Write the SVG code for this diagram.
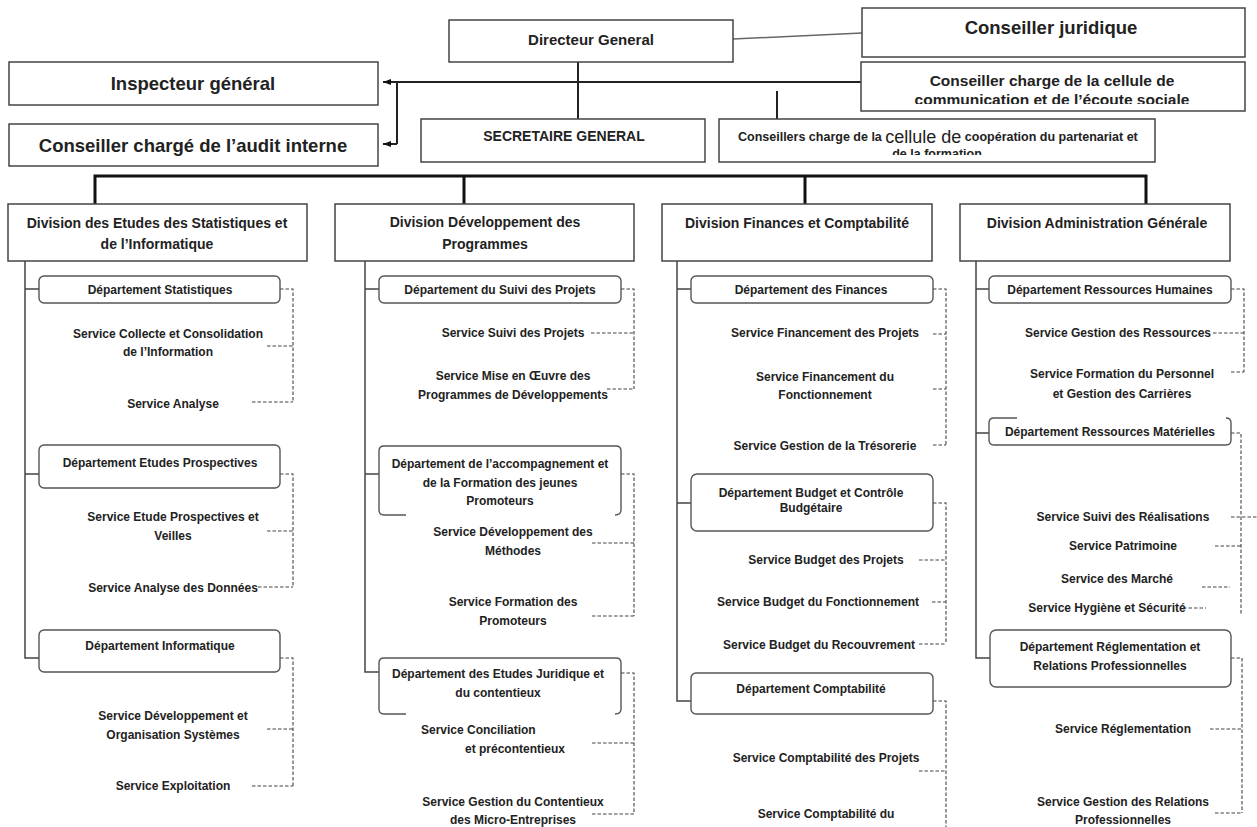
<svg xmlns="http://www.w3.org/2000/svg" width="1257" height="827" viewBox="0 0 1257 827">
  <style>
    text { font-family: "Liberation Sans", Arial, sans-serif; fill: #222; dominant-baseline: central; text-anchor: middle; }
    .top { font-size: 18.5px; font-weight: bold; }
    .mid { font-size: 15.5px; font-weight: bold; }
    .dg { font-size: 15px; font-weight: bold; }
    .sg { font-size: 14px; font-weight: bold; }
    .div { font-size: 14px; font-weight: bold; }
    .dep { font-size: 12px; font-weight: bold; }
    .svc { font-size: 12px; font-weight: bold; }
    .sq { fill: #fff; stroke: #444; stroke-width: 1.5; }
    .rd { fill: #fff; stroke: #555; stroke-width: 1.4; }
    .open { fill: none; stroke: #555; stroke-width: 1.4; }
    .bus { fill: none; stroke: #111; stroke-width: 3; }
    .link { fill: none; stroke: #222; stroke-width: 2; }
    .col { fill: none; stroke: #444; stroke-width: 1.5; }
    .thin { fill: none; stroke: #666; stroke-width: 1.5; }
    .dash { fill: none; stroke: #444; stroke-width: 1.1; stroke-dasharray: 3.5 2; }
  </style>
  <defs>
    <marker id="arrow" viewBox="0 0 8 6" refX="8" refY="3" markerWidth="8" markerHeight="6" markerUnits="userSpaceOnUse" orient="auto">
      <path d="M0 0 L8 3 L0 6 Z" fill="#111"/>
    </marker>
    <clipPath id="clipComm"><rect x="861" y="62" width="384" height="42"/></clipPath>
    <clipPath id="clipCoop"><rect x="719" y="119" width="436" height="36"/></clipPath>
  </defs>
  <rect width="1257" height="827" fill="#fff"/>

  <!-- connectors -->
  <g id="connectors">
    <path class="thin" d="M733 39 L862 33"/>
    <path class="link" d="M397 82 H861"/>
    <path class="link" d="M397 82 V144"/>
    <path class="link" d="M397 82 H383" marker-end="url(#arrow)"/>
    <path class="link" d="M397 144 H383" marker-end="url(#arrow)"/>
    <path class="link" d="M578 62 V119"/>
    <path class="link" d="M777 91 V119"/>
    <path class="bus" d="M95 204 V176 H1146 V204"/>
    <path class="bus" d="M464 176 V204"/>
    <path class="bus" d="M805 176 V204"/>

    <!-- division spines -->
    <path class="col" d="M25 261 V658 H39 M25 289 H39 M25 474 H39"/>
    <path class="col" d="M365 261 V672 H379 M365 289 H379 M365 474 H379"/>
    <path class="col" d="M677 261 V701 H691 M677 289 H691 M677 503 H691"/>
    <path class="col" d="M976 261 V658 H990 M976 289 H989 M976 433 H989"/>

    <!-- department to service brackets -->
    <path class="dash" d="M280 289 H293 V402 M267 346 H293 M252 402 H293"/>
    <path class="dash" d="M280 474 H293 V587 M267 531 H293 M258 587 H293"/>
    <path class="dash" d="M280 658 H293 V786 M267 729 H293 M252 786 H293"/>

    <path class="dash" d="M621 289 H634 V389 M591 333 H634 M607 389 H634"/>
    <path class="dash" d="M621 474 H634 V616 M592 543 H634 M592 616 H634"/>
    <path class="dash" d="M621 673 H634 V814 M592 743 H634 M592 814 H634"/>

    <path class="dash" d="M933 289 H946 V445 M933 334 H946 M933 389 H946 M933 445 H946"/>
    <path class="dash" d="M933 503 H946 V644 M919 560 H946 M932 602 H946 M919 644 H946"/>
    <path class="dash" d="M933 701 H946 V827 M919 771 H946"/>

    <path class="dash" d="M1231 289 H1244 V372 M1213 333 H1244 M1231 372 H1244"/>
    <path class="dash" d="M1231 433 H1241 V614 M1231 517 H1257 M1215 546 H1241 M1202 587 H1230 M1183 608 H1206"/>
    <path class="dash" d="M1231 658 H1242 V813 M1210 729 H1242 M1215 813 H1242"/>
  </g>

  <!-- top management -->
  <g id="directeur-general">
    <rect class="sq" x="449" y="20" width="284" height="42"/>
    <text class="dg" x="591" y="39">Directeur General</text>
  </g>
  <g id="conseiller-juridique">
    <rect class="sq" x="862" y="8" width="383" height="49"/>
    <text class="top" x="1051" y="27">Conseiller juridique</text>
  </g>
  <g id="inspecteur-general">
    <rect class="sq" x="9" y="62" width="369" height="43"/>
    <text class="top" x="193" y="83">Inspecteur général</text>
  </g>
  <g id="audit-interne">
    <rect class="sq" x="9" y="124" width="369" height="42"/>
    <text class="top" x="193" y="145">Conseiller chargé de l’audit interne</text>
  </g>
  <g id="cellule-communication">
    <rect class="sq" x="861" y="62" width="384" height="49"/>
    <text class="mid" x="1052" y="80">Conseiller charge de la cellule de</text>
    <text class="mid" x="1052" y="99" clip-path="url(#clipComm)">communication et de l’écoute sociale</text>
  </g>
  <g id="secretaire-general">
    <rect class="sq" x="421" y="119" width="284" height="43"/>
    <text class="sg" x="564" y="136">SECRETAIRE GENERAL</text>
  </g>
  <g id="cellule-cooperation">
    <rect class="sq" x="719" y="119" width="436" height="43"/>
    <text x="738" y="137" style="text-anchor:start;font-size:12.5px;font-weight:bold">Conseillers charge de la <tspan style="font-size:18px;font-weight:normal">cellule de</tspan> coopération du partenariat et</text>
    <text x="937" y="154" clip-path="url(#clipCoop)" style="font-size:12.5px;font-weight:bold">de la formation</text>
  </g>

  <!-- divisions -->
  <g id="div-etudes">
    <rect class="sq" x="8" y="204" width="299" height="57"/>
    <text class="div" x="157" y="223">Division des Etudes des Statistiques et</text>
    <text class="div" x="157" y="244">de l’Informatique</text>
  </g>
  <g id="div-developpement">
    <rect class="sq" x="335" y="204" width="299" height="57"/>
    <text class="div" x="485" y="222">Division Développement des</text>
    <text class="div" x="485" y="244">Programmes</text>
  </g>
  <g id="div-finances">
    <rect class="sq" x="662" y="204" width="270" height="57"/>
    <text class="div" x="797" y="223">Division Finances et Comptabilité</text>
  </g>
  <g id="div-administration">
    <rect class="sq" x="960" y="204" width="270" height="57"/>
    <text class="div" x="1097" y="223">Division Administration Générale</text>
  </g>

  <!-- column 1 -->
  <g id="dep-statistiques">
    <rect class="rd" x="39" y="276" width="241" height="27" rx="5"/>
    <text class="dep" x="160" y="290">Département Statistiques</text>
  </g>
  <g id="svc-collecte">
    <text class="svc" x="168" y="334">Service Collecte et Consolidation</text>
    <text class="svc" x="168" y="352">de l’Information</text>
  </g>
  <g id="svc-analyse"><text class="svc" x="173" y="404">Service Analyse</text></g>
  <g id="dep-prospectives">
    <rect class="rd" x="39" y="445" width="241" height="43" rx="5"/>
    <text class="dep" x="160" y="463">Département Etudes Prospectives</text>
  </g>
  <g id="svc-veilles">
    <text class="svc" x="173" y="517">Service Etude Prospectives et</text>
    <text class="svc" x="173" y="536">Veilles</text>
  </g>
  <g id="svc-analyse-donnees"><text class="svc" x="173" y="588">Service Analyse des Données</text></g>
  <g id="dep-informatique">
    <rect class="rd" x="39" y="630" width="241" height="42" rx="5"/>
    <text class="dep" x="160" y="646">Département Informatique</text>
  </g>
  <g id="svc-developpement-systemes">
    <text class="svc" x="173" y="716">Service Développement et</text>
    <text class="svc" x="173" y="735">Organisation Systèmes</text>
  </g>
  <g id="svc-exploitation"><text class="svc" x="173" y="786">Service Exploitation</text></g>

  <!-- column 2 -->
  <g id="dep-suivi-projets">
    <rect class="rd" x="379" y="276" width="242" height="27" rx="5"/>
    <text class="dep" x="500" y="290">Département du Suivi des Projets</text>
  </g>
  <g id="svc-suivi-projets"><text class="svc" x="513" y="333">Service Suivi des Projets</text></g>
  <g id="svc-mise-en-oeuvre">
    <text class="svc" x="513" y="376">Service Mise en Œuvre des</text>
    <text class="svc" x="513" y="395">Programmes de Développements</text>
  </g>
  <g id="dep-accompagnement">
    <path class="open" d="M406 515 H384 Q379 515 379 510 V451 Q379 446 384 446 H616 Q621 446 621 451 V510 Q621 515 615 515"/>
    <text class="dep" x="500" y="464">Département de l’accompagnement et</text>
    <text class="dep" x="500" y="483">de la Formation des jeunes</text>
    <text class="dep" x="500" y="501">Promoteurs</text>
  </g>
  <g id="svc-methodes">
    <text class="svc" x="513" y="532">Service Développement des</text>
    <text class="svc" x="513" y="551">Méthodes</text>
  </g>
  <g id="svc-formation-promoteurs">
    <text class="svc" x="513" y="602">Service Formation des</text>
    <text class="svc" x="513" y="621">Promoteurs</text>
  </g>
  <g id="dep-juridique">
    <path class="open" d="M406 714 H384 Q379 714 379 709 V663 Q379 658 384 658 H616 Q621 658 621 663 V709 Q621 714 615 714"/>
    <text class="dep" x="498" y="674">Département des Etudes Juridique et</text>
    <text class="dep" x="498" y="693">du contentieux</text>
  </g>
  <g id="svc-conciliation">
    <text class="svc" x="421" y="730" style="text-anchor:start">Service Conciliation</text>
    <text class="svc" x="465" y="749" style="text-anchor:start">et précontentieux</text>
  </g>
  <g id="svc-contentieux">
    <text class="svc" x="513" y="802">Service Gestion du Contentieux</text>
    <text class="svc" x="513" y="820">des Micro-Entreprises</text>
  </g>

  <!-- column 3 -->
  <g id="dep-finances">
    <rect class="rd" x="691" y="276" width="242" height="27" rx="5"/>
    <text class="dep" x="811" y="290">Département des Finances</text>
  </g>
  <g id="svc-financement-projets"><text class="svc" x="825" y="333">Service Financement des Projets</text></g>
  <g id="svc-financement-fonctionnement">
    <text class="svc" x="825" y="377">Service Financement du</text>
    <text class="svc" x="825" y="395">Fonctionnement</text>
  </g>
  <g id="svc-tresorerie"><text class="svc" x="825" y="446">Service Gestion de la Trésorerie</text></g>
  <g id="dep-budget">
    <rect class="rd" x="691" y="474" width="242" height="57" rx="6"/>
    <text class="dep" x="811" y="493">Département Budget et Contrôle</text>
    <text class="dep" x="811" y="508">Budgétaire</text>
  </g>
  <g id="svc-budget-projets"><text class="svc" x="826" y="560">Service Budget des Projets</text></g>
  <g id="svc-budget-fonctionnement"><text class="svc" x="818" y="602">Service Budget du Fonctionnement</text></g>
  <g id="svc-recouvrement"><text class="svc" x="819" y="645">Service Budget du Recouvrement</text></g>
  <g id="dep-comptabilite">
    <rect class="rd" x="691" y="673" width="242" height="41" rx="5"/>
    <text class="dep" x="811" y="689">Département Comptabilité</text>
  </g>
  <g id="svc-compta-projets"><text class="svc" x="826" y="758">Service Comptabilité des Projets</text></g>
  <g id="svc-compta-fonctionnement"><text class="svc" x="826" y="814">Service Comptabilité du</text></g>

  <!-- column 4 -->
  <g id="dep-rh">
    <rect class="rd" x="989" y="276" width="242" height="27" rx="5"/>
    <text class="dep" x="1110" y="290">Département Ressources Humaines</text>
  </g>
  <g id="svc-gestion-ressources"><text class="svc" x="1118" y="333">Service Gestion des Ressources</text></g>
  <g id="svc-formation-personnel">
    <text class="svc" x="1122" y="374">Service Formation du Personnel</text>
    <text class="svc" x="1122" y="394">et Gestion des Carrières</text>
  </g>
  <g id="dep-materielles">
    <path class="open" d="M1017 418 H994 Q989 418 989 423 V440 Q989 445 994 445 H1226 Q1231 445 1231 440 V423 Q1231 418 1226 418"/>
    <text class="dep" x="1110" y="432">Département Ressources Matérielles</text>
  </g>
  <g id="svc-realisations"><text class="svc" x="1123" y="517">Service Suivi des Réalisations</text></g>
  <g id="svc-patrimoine"><text class="svc" x="1123" y="546">Service Patrimoine</text></g>
  <g id="svc-marche"><text class="svc" x="1117" y="579">Service des Marché</text></g>
  <g id="svc-hygiene"><text class="svc" x="1107" y="608">Service Hygiène et Sécurité</text></g>
  <g id="dep-reglementation">
    <rect class="rd" x="990" y="630" width="241" height="57" rx="6"/>
    <text class="dep" x="1110" y="647">Département Réglementation et</text>
    <text class="dep" x="1110" y="666">Relations Professionnelles</text>
  </g>
  <g id="svc-reglementation"><text class="svc" x="1123" y="729">Service Réglementation</text></g>
  <g id="svc-relations">
    <text class="svc" x="1123" y="802">Service Gestion des Relations</text>
    <text class="svc" x="1123" y="820">Professionnelles</text>
  </g>
</svg>
